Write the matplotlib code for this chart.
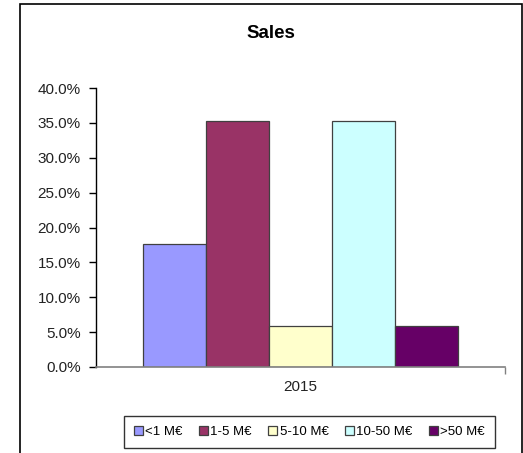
import matplotlib.pyplot as plt
import numpy as np
from matplotlib.patches import Rectangle
from matplotlib.ticker import FuncFormatter

plt.rcParams['font.family'] = ['Liberation Sans', 'DejaVu Sans']

# data
years = ["2015"]
labels = ["<1 M€", "1-5 M€", "5-10 M€", "10-50 M€", ">50 M€"]
values = [17.6, 35.3, 5.9, 35.3, 5.9]
colors = ["#9999FF", "#993366", "#FFFFCC", "#CCFFFF", "#660066"]

W, H = 523, 453
fig = plt.figure(figsize=(W / 100, H / 100), dpi=100)
fig.patch.set_facecolor("white")

# outer chart frame
fig.add_artist(Rectangle((20 / W, -0.05), 502 / W, 1.05 - 4 / H,
                         transform=fig.transFigure, fill=False,
                         edgecolor="black", linewidth=1.2))

ax = fig.add_axes([96 / W, (H - 367) / H, (505 - 96) / W, (367 - 88) / H])

bw = 63 / 409
x0 = np.arange(len(years))
for i, (lab, v, c) in enumerate(zip(labels, values, colors)):
    off = (i - 2) * bw
    ax.bar(x0 + off, [v], width=bw, color=c, edgecolor="#404040",
           linewidth=0.9, label=lab, zorder=2)

ax.set_xlim(-0.5, 0.5)
ax.set_ylim(0, 40)
ax.set_yticks(np.arange(0, 41, 5))
ax.yaxis.set_major_formatter(FuncFormatter(lambda v, p: f"{v:.1f}%"))
ax.set_xticks([0.5])
ax.set_xticklabels([""])
ax.text(0, -0.045, years[0], transform=ax.get_xaxis_transform(),
        ha="center", va="top", fontsize=11, color="#222222")

for s in ["top", "right"]:
    ax.spines[s].set_visible(False)
ax.spines["left"].set_color("black")
ax.spines["left"].set_linewidth(1.0)
ax.spines["bottom"].set_color("#808080")
ax.spines["bottom"].set_linewidth(1.2)
ax.tick_params(axis="y", direction="out", length=5, width=1.0,
               labelsize=11, labelcolor="#222222", pad=6)
ax.tick_params(axis="x", direction="out", length=5, width=1.0,
               color="#808080")

fig.text(271 / W, 1 - 33 / H, "Sales", ha="center", va="center",
         fontsize=13.5, fontweight="bold")

leg = fig.legend(loc="center", bbox_to_anchor=(309.5 / W, 1 - 432 / H),
                 ncol=5, fontsize=9.5, frameon=True, fancybox=False,
                 handlelength=0.65, handleheight=0.65, handletextpad=0.2,
                 columnspacing=1.25, borderpad=0.75, borderaxespad=0)
leg.get_frame().set_edgecolor("black")
leg.get_frame().set_linewidth(1.0)

fig.savefig("out.png", dpi=100, facecolor="white")
